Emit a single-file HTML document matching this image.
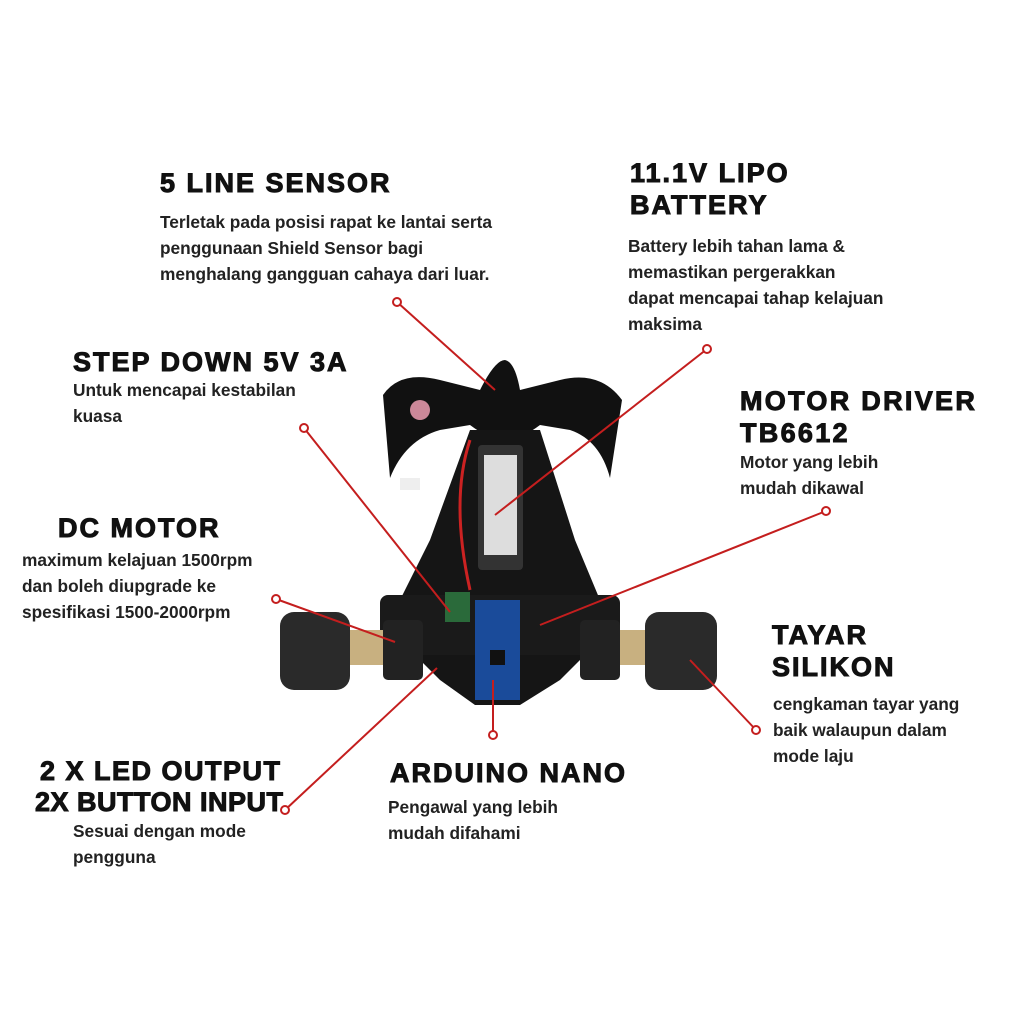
<!DOCTYPE html>
<html><head><meta charset="utf-8"><style>
html,body{margin:0;padding:0;background:#fff}
body{width:1024px;height:1024px;position:relative;overflow:hidden;font-family:"Liberation Sans",sans-serif}
.t{position:absolute;font-weight:900;font-size:27px;letter-spacing:2px;color:#111;line-height:32px;white-space:nowrap;-webkit-text-stroke:1px #111}
.d{position:absolute;font-weight:bold;font-size:17.3px;color:#222;line-height:26px;white-space:nowrap}
svg{position:absolute;left:0;top:0}
</style></head><body>
<svg width="1024" height="1024" viewBox="0 0 1024 1024">
<path d="M383,395 Q400,370 440,380 L480,390 Q495,360 505,360 Q515,362 520,390 L560,380 Q600,370 622,400 L610,478 Q600,440 570,430 L540,425 Q520,440 505,440 Q490,440 470,425 L440,430 Q405,440 390,478 Z" fill="#111"/>
<circle cx="420" cy="410" r="10" fill="#c89"/>
<path d="M470,430 L540,430 L575,540 L600,600 L600,640 L560,680 L520,705 L475,705 L440,680 L400,640 L400,600 L430,540 Z" fill="#151515"/>
<rect x="380" y="595" width="240" height="60" rx="8" fill="#1a1a1a"/>
<rect x="478" y="445" width="45" height="125" rx="4" fill="#333"/>
<rect x="484" y="455" width="33" height="100" fill="#ddd"/>
<path d="M470,440 Q450,500 470,590" stroke="#c22" stroke-width="3" fill="none"/>
<rect x="400" y="478" width="20" height="12" fill="#eee"/>
<rect x="475" y="600" width="45" height="100" fill="#1a4b9a"/>
<rect x="490" y="650" width="15" height="15" fill="#111"/>
<rect x="445" y="592" width="25" height="30" fill="#2a6a3a"/>
<rect x="345" y="630" width="45" height="35" fill="#c8b080"/>
<rect x="612" y="630" width="45" height="35" fill="#c8b080"/>
<rect x="383" y="620" width="40" height="60" rx="5" fill="#222"/>
<rect x="580" y="620" width="40" height="60" rx="5" fill="#222"/>
<rect x="280" y="612" width="70" height="78" rx="14" fill="#2a2a2a"/>
<rect x="645" y="612" width="72" height="78" rx="14" fill="#2a2a2a"/>
<g stroke="#c41e1e" stroke-width="2" fill="#fff">
<line x1="397" y1="302" x2="495" y2="390"/>
<line x1="707" y1="349" x2="495" y2="515"/>
<line x1="304" y1="428" x2="450" y2="612"/>
<line x1="826" y1="511" x2="540" y2="625"/>
<line x1="276" y1="599" x2="395" y2="642"/>
<line x1="756" y1="730" x2="690" y2="660"/>
<line x1="493" y1="735" x2="493" y2="680"/>
<line x1="285" y1="810" x2="437" y2="668"/>
<circle cx="397" cy="302" r="4"/><circle cx="707" cy="349" r="4"/><circle cx="304" cy="428" r="4"/>
<circle cx="826" cy="511" r="4"/><circle cx="276" cy="599" r="4"/><circle cx="756" cy="730" r="4"/>
<circle cx="493" cy="735" r="4"/><circle cx="285" cy="810" r="4"/>
</g>
</svg>
<div class="t" style="left:160px;top:167px">5 LINE SENSOR</div>
<div class="d" style="left:160px;top:209px">Terletak pada posisi rapat ke lantai serta<br>penggunaan Shield Sensor bagi<br>menghalang gangguan cahaya dari luar.</div>
<div class="t" style="left:630px;top:157px">11.1V LIPO<br>BATTERY</div>
<div class="d" style="left:628px;top:233px">Battery lebih tahan lama &amp;<br>memastikan pergerakkan<br>dapat mencapai tahap kelajuan<br>maksima</div>
<div class="t" style="left:73px;top:346px">STEP DOWN 5V 3A</div>
<div class="d" style="left:73px;top:377px">Untuk mencapai kestabilan<br>kuasa</div>
<div class="t" style="left:740px;top:385px;letter-spacing:2.3px">MOTOR DRIVER<br>TB6612</div>
<div class="d" style="left:740px;top:449px">Motor yang lebih<br>mudah dikawal</div>
<div class="t" style="left:58px;top:512px">DC MOTOR</div>
<div class="d" style="left:22px;top:547px">maximum kelajuan 1500rpm<br>dan boleh diupgrade ke<br>spesifikasi 1500-2000rpm</div>
<div class="t" style="left:772px;top:619px">TAYAR<br>SILIKON</div>
<div class="d" style="left:773px;top:691px">cengkaman tayar yang<br>baik walaupun dalam<br>mode laju</div>
<div class="t" style="left:40px;top:755px;letter-spacing:1.5px">2 X LED OUTPUT</div>
<div class="t" style="left:35px;top:786px;letter-spacing:0.5px">2X BUTTON INPUT</div>
<div class="d" style="left:73px;top:818px">Sesuai dengan mode<br>pengguna</div>
<div class="t" style="left:390px;top:757px">ARDUINO NANO</div>
<div class="d" style="left:388px;top:794px">Pengawal yang lebih<br>mudah difahami</div>
</body></html>
